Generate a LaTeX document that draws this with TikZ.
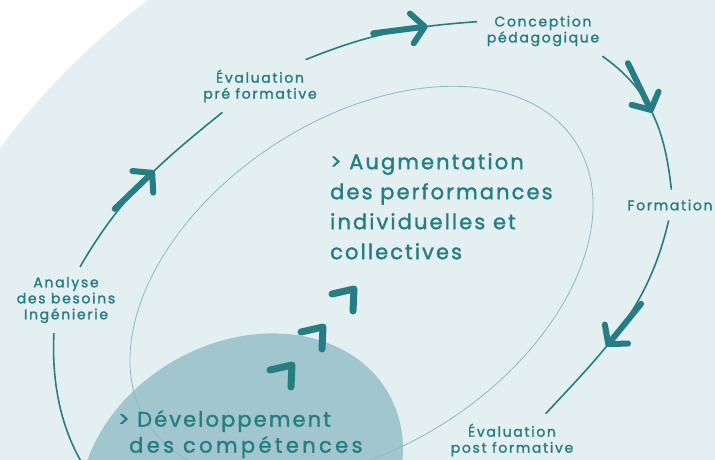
\documentclass[tikz,border=0pt]{standalone}
\usepackage{fontspec}
\setmainfont{Poppins}[FakeBold=1.5]
\usetikzlibrary{arrows.meta,decorations.markings}

\definecolor{sarcelle}{RGB}{38,125,131}
\definecolor{fondbleu}{RGB}{228,239,242}
\definecolor{trait}{RGB}{138,187,194}
\definecolor{tache}{RGB}{161,198,206}

\tikzset{
  etape/.style={text=sarcelle, font={\fontsize{14}{16}\selectfont\addfontfeatures{LetterSpace=12}}, align=center, inner sep=2pt, outer sep=8pt},
  titre/.style={text=sarcelle, font={\fontsize{21}{30}\selectfont\addfontfeatures{LetterSpace=10}}, align=left, inner sep=0pt, anchor=north west},
  boucle/.style={draw=sarcelle, line width=1.6pt},
  fleche/.style={postaction={decorate,decoration={markings,
      mark=at position #1 with {\draw[sarcelle, line width=6pt, line cap=round,
        -{Straight Barb[length=13pt,width=30pt,round]}] (-55pt,0) -- (0,0);}}}},
  crochet/.style={draw=sarcelle, line width=7pt, line cap=round, line join=round}
}

\begin{document}
\begin{tikzpicture}[x=1pt,y=1pt]
  \useasboundingbox (0,0) rectangle (715,459);
  \clip (0,0) rectangle (715,459);
  \fill[white] (0,0) rectangle (715,459);
  \fill[fondbleu] (560,-101) circle [radius=695pt];
  \fill[tache, rotate around={30:(241,-19)}] (241,-19) ellipse [x radius=170pt, y radius=135pt];
  \draw[trait, line width=0.8pt, rotate around={33.6:(361.5,176.5)}] (361.5,176.5) ellipse [x radius=256pt, y radius=163pt];

  \foreach \i in {0,1,2}
    \draw[crochet] (332-31*\i,165-38*\i) -- ++(22,5) -- ++(-1,-22);

  \node[titre] (augm) at (330,306) {> Augmentation\\des performances\\individuelles et\\collectives};
  \node[titre, font={\fontsize{21}{26}\selectfont\addfontfeatures{LetterSpace=10}}] (dev) at (118,49) {> Développement\\\hspace*{11pt}\addfontfeatures{LetterSpace=16}des compétences};

  \node[etape] (analyse) at (66,159) {Analyse\\des besoins\\Ingénierie};
  \node[etape] (evalpre) at (260,373) {Évaluation\\pré formative};
  \node[etape] (conception) at (543,428) {Conception\\pédagogique};
  \node[etape] (formation) at (670,254) {Formation};
  \node[etape] (evalpost) at (512,19) {Évaluation\\post formative};
  \coordinate (bas) at (225,-82);

  \draw[boucle, fleche=122pt] (analyse.67) to[out=60,in=219] (evalpre.215);
  \draw[boucle, fleche=127pt] (evalpre.30) to[out=22,in=184] (conception.172);
  \draw[boucle, fleche=76pt] (conception.-23) to[out=-35,in=96] (formation.85);
  \draw[boucle, fleche=142pt] (formation.-95) to[out=-103,in=47] (evalpost.38);
  \draw[boucle] (evalpost.south) to[out=-125,in=0] (bas) to[out=180,in=-93,looseness=1.1] (analyse.-110);
\end{tikzpicture}
\end{document}
